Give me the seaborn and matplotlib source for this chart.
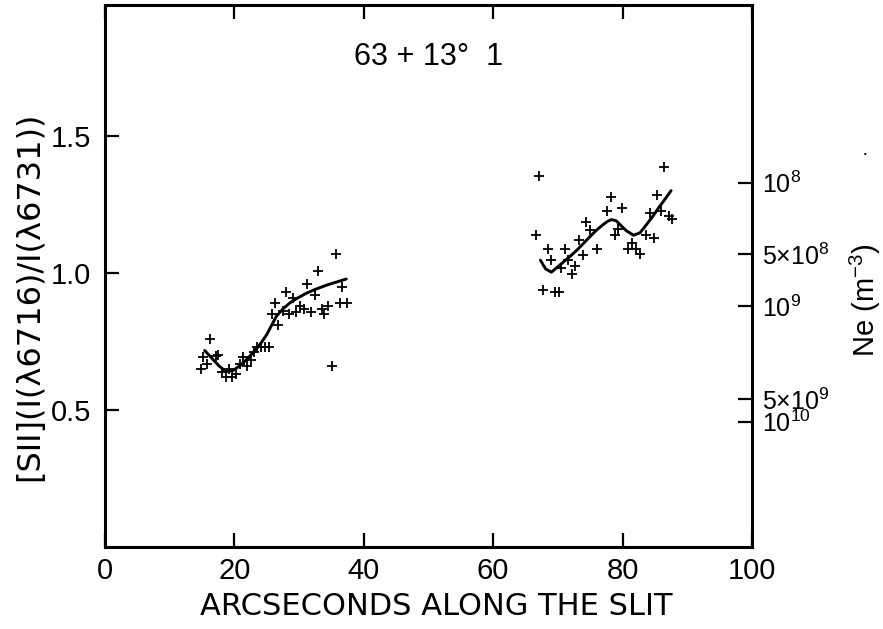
import matplotlib
matplotlib.use("Agg")
import matplotlib.pyplot as plt
import seaborn as sns
import pandas as pd

# Measured [SII] line ratio along the slit (two slit segments)
x_left = [14.8, 15.2, 15.8, 16.3, 17.2, 17.5, 18.1, 18.7, 19.2, 19.7, 20.2, 20.8,
          21.4, 21.9, 22.5, 23.0, 23.5, 24.1, 24.7, 25.3, 25.8, 26.3, 26.8, 27.5,
          28.0, 28.5, 29.1, 29.6, 30.2, 30.8, 31.2, 31.9, 32.4, 33.0, 33.5, 33.9,
          34.5, 35.1, 35.7, 36.3, 36.7, 37.4]
y_left = [0.649, 0.693, 0.670, 0.761, 0.696, 0.701, 0.639, 0.621, 0.650, 0.621,
          0.632, 0.670, 0.693, 0.663, 0.683, 0.711, 0.731, 0.731, 0.731, 0.731,
          0.850, 0.892, 0.811, 0.863, 0.932, 0.850, 0.909, 0.860, 0.879, 0.870,
          0.961, 0.860, 0.921, 1.010, 0.870, 0.850, 0.879, 0.662, 1.070, 0.892,
          0.950, 0.892]

x_right = [66.6, 67.1, 67.7, 68.4, 69.0, 69.5, 70.1, 70.5, 71.1, 71.6, 72.2, 72.7,
           73.3, 73.9, 74.4, 75.0, 76.0, 77.6, 78.2, 78.8, 79.3, 79.9, 80.9, 81.5,
           82.1, 82.7, 83.6, 84.3, 84.8, 85.3, 85.9, 86.4, 87.2, 87.7]
y_right = [1.138, 1.357, 0.940, 1.089, 1.050, 0.931, 0.931, 1.018, 1.089, 1.048,
           0.999, 1.028, 1.121, 1.067, 1.189, 1.157, 1.089, 1.226, 1.277, 1.138,
           1.160, 1.238, 1.089, 1.109, 1.089, 1.070, 1.140, 1.221, 1.128, 1.287,
           1.226, 1.389, 1.209, 1.200]

# Smoothed fits through each segment
fit_left_x = [15.4, 16.5, 17.6, 18.7, 19.8, 21.0, 22.2, 23.4, 24.2, 25.0, 25.8,
              26.5, 27.5, 28.6, 29.8, 31.2, 32.7, 34.3, 35.8, 37.3]
fit_left_y = [0.718, 0.690, 0.662, 0.641, 0.645, 0.665, 0.692, 0.724, 0.748, 0.776,
              0.812, 0.843, 0.870, 0.892, 0.910, 0.928, 0.943, 0.957, 0.968, 0.979]
fit_right_x = [67.3, 68.1, 69.0, 70.0, 71.0, 71.9, 73.0, 74.0, 75.0, 76.0, 77.0,
               77.7, 78.3, 79.0, 79.6, 80.6, 81.7, 82.7, 83.7, 84.7, 85.6, 86.6, 87.5]
fit_right_y = [1.048, 1.016, 1.004, 1.024, 1.044, 1.062, 1.086, 1.110, 1.135, 1.158,
               1.178, 1.190, 1.196, 1.192, 1.178, 1.155, 1.139, 1.148, 1.178, 1.209,
               1.240, 1.272, 1.302]

x_ticks = [0, 20, 40, 60, 80, 100]
y_ticks = [0.5, 1.0, 1.5]

# Electron density scale: ratio value of each density tick
ne_ratio = [1.331, 1.071, 0.879, 0.540, 0.458]
ne_labels = ["10$^{8}$", "5×10$^{8}$", "10$^{9}$", "5×10$^{9}$", "10$^{10}$"]

sns.set_theme(style="white")
plt.rcParams["font.family"] = ["Liberation Sans", "DejaVu Sans"]
plt.rcParams["mathtext.fontset"] = "custom"
plt.rcParams["mathtext.rm"] = "Liberation Sans"
plt.rcParams["mathtext.default"] = "regular"

fig = plt.figure(figsize=(8.83, 6.29), dpi=100)
ax = fig.add_axes([0.1189, 0.1304, 0.7327, 0.8616])

pts = pd.DataFrame({"x": x_left + x_right, "y": y_left + y_right})
sns.scatterplot(data=pts, x="x", y="y", marker="+", s=60, color="black",
                linewidth=1.3, ax=ax, legend=False)

fit_l = pd.DataFrame({"x": fit_left_x, "y": fit_left_y})
fit_r = pd.DataFrame({"x": fit_right_x, "y": fit_right_y})
for d in (fit_l, fit_r):
    sns.lineplot(data=d, x="x", y="y", sort=False, estimator=None,
                 color="black", linewidth=2.1, ax=ax)

ax.set_xlim(0, 100)
ax.set_ylim(0, 1.98)
ax.set_xticks(x_ticks)
ax.set_xticklabels([str(v) for v in x_ticks])
ax.set_yticks(y_ticks)
ax.set_yticklabels([f"{v:.1f}" for v in y_ticks])
ax.tick_params(axis="both", direction="in", length=10, width=1.6,
               colors="black", labelsize=21, top=True, bottom=True,
               left=True, right=False)
ax.tick_params(axis="x", pad=7)
ax.tick_params(axis="y", pad=10)
for s in ax.spines.values():
    s.set_color("black")
    s.set_linewidth(2.2)

ax.set_xlabel("ARCSECONDS ALONG THE SLIT", fontsize=22, color="black",
              va="center", family="DejaVu Sans")
ax.xaxis.set_label_coords(0.512, -0.109)
ax.set_ylabel("[SII](I(λ6716)/I(λ6731))", fontsize=23, color="black",
              va="center", family="DejaVu Sans")
ax.yaxis.set_label_coords(-0.116, 0.462)
ax.text(0.5, 0.905, "63 + 13°  1", transform=ax.transAxes, ha="center",
        va="center", fontsize=22, color="black")

ax2 = ax.twinx()
ax2.set_ylim(ax.get_ylim())
ax2.set_yticks(ne_ratio)
ax2.set_yticklabels(ne_labels)
ax2.tick_params(axis="y", direction="in", length=10, width=1.6, labelsize=18,
                pad=7, colors="black")
ax2.set_ylabel("Ne (m$^{-3}$)", fontsize=21, color="black", va="center")
ax2.yaxis.set_label_coords(1.176, 0.455)
for s in ax2.spines.values():
    s.set_visible(False)

fig.text(0.98, 0.755, "·", fontsize=14, ha="center", va="center", color="black")

fig.savefig("out.png", dpi=100, facecolor="white")
